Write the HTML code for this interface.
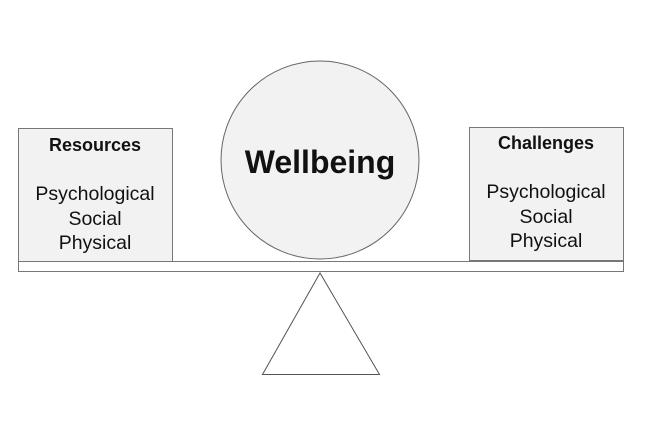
<!DOCTYPE html>
<html><head><style>body{margin:0;background:#fff}</style></head><body>
<svg width="648" height="432" xmlns="http://www.w3.org/2000/svg" style="display:block">
<rect width="648" height="432" fill="#fff"/>
<rect x="18.5" y="128.5" width="154" height="133" fill="#f1f2f1" stroke="#777" stroke-width="1"/>
<rect x="469.5" y="127.5" width="154" height="133" fill="#f1f2f1" stroke="#777" stroke-width="1"/>
<circle cx="320" cy="160" r="99" fill="#f1f2f1" stroke="#666" stroke-width="1"/>
<rect x="18.5" y="261.5" width="605" height="10" fill="#fff" stroke="#777" stroke-width="1"/>
<polygon points="320,273 262.5,374.5 379.5,374.5" fill="#fff" stroke="#555" stroke-width="1"/>
<g font-family="Liberation Sans, sans-serif" text-anchor="middle" fill="#111">
<text x="95" y="151" font-size="18" font-weight="bold">Resources</text>
<text x="95" y="200" font-size="19.5">Psychological</text>
<text x="95" y="225" font-size="19.5">Social</text>
<text x="95" y="249" font-size="19.5">Physical</text>
<text x="546" y="149" font-size="18" font-weight="bold">Challenges</text>
<text x="546" y="198" font-size="19.5">Psychological</text>
<text x="546" y="223" font-size="19.5">Social</text>
<text x="546" y="247" font-size="19.5">Physical</text>
<text x="320" y="173" font-size="32" font-weight="bold">Wellbeing</text>
</g>
</svg>
</body></html>
